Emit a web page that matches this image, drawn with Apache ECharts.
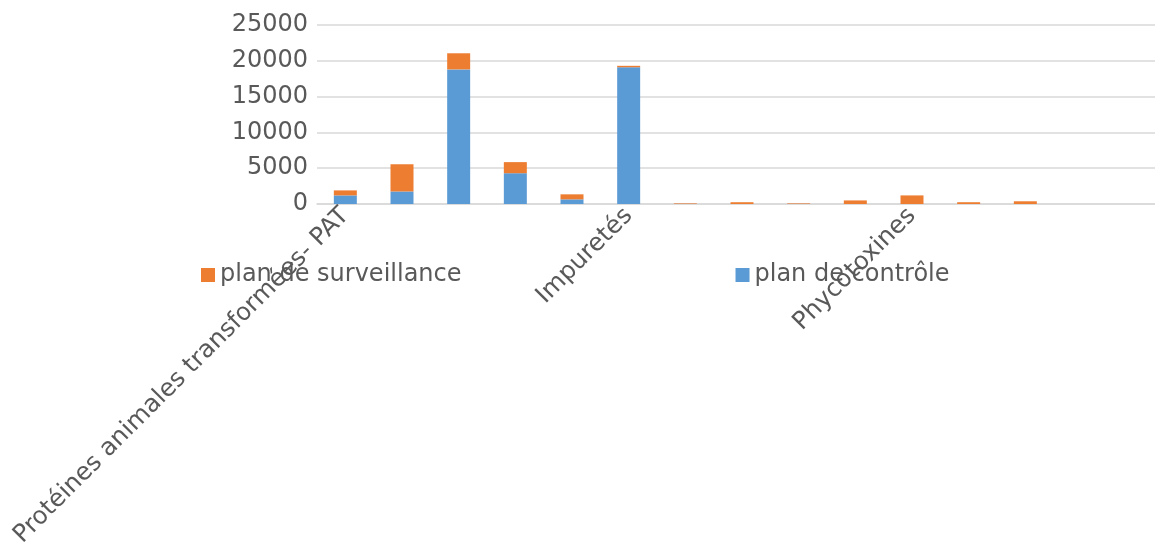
<!DOCTYPE html>
<html>
<head>
<meta charset="utf-8">
<script src="https://cdn.jsdelivr.net/npm/echarts@6/dist/echarts.min.js"></script>
<style>html,body{margin:0;padding:0;background:#fff}#c{width:1155px;height:551px}</style>
</head>
<body>
<div id="c"></div>
<script>
const categories = [
  "Protéines animales transformées- PAT",
  "Additifs",
  "Substances indésirables",
  "Médicaments vétérinaires",
  "OGM",
  "Impuretés",
  "Salmonelles",
  "Dioxines et PCB",
  "Radionucléides",
  "Pesticides",
  "Phycotoxines",
  "Mycotoxines",
  "Métaux lourds",
  "Étiquetage",
  "Autres"
];
const planControle = [1200, 1750, 18800, 4300, 650, 19100, 20, 0, 20, 0, 0, 0, 0, 0, 0];
const planSurveillance = [700, 3800, 2250, 1550, 700, 200, 80, 250, 80, 500, 1200, 250, 380, 0, 0];
const yTicks = { min: 0, max: 25000, interval: 5000 };

const chart = echarts.init(document.getElementById('c'), null, { renderer: 'canvas' });
const font = '"DejaVu Sans", sans-serif';
const textColor = '#595959';
chart.setOption({
  animation: false,
  textStyle: { fontFamily: font },
  grid: { left: 317, top: 25, width: 850, height: 179, containLabel: false, outerBoundsMode: 'none' },
  legend: {
    data: ['plan de surveillance', 'plan de contrôle'],
    left: 196, top: 258,
    itemWidth: 14, itemHeight: 14, itemGap: 274,
    icon: 'rect',
    textStyle: { fontFamily: font, fontSize: 24, color: textColor }
  },
  xAxis: {
    type: 'category',
    data: categories,
    axisLine: { show: true, lineStyle: { color: '#d9d9d9', width: 1.5 } },
    axisTick: { show: false },
    axisLabel: { interval: 4, rotate: 45, fontSize: 24.5, color: textColor, fontFamily: font, margin: 8 }
  },
  yAxis: {
    type: 'value',
    min: yTicks.min, max: yTicks.max, interval: yTicks.interval,
    axisLine: { show: false },
    axisTick: { show: false },
    axisLabel: { fontSize: 24, color: textColor, fontFamily: font, margin: 9, formatter: v => String(v) },
    splitLine: { lineStyle: { color: '#d9d9d9', width: 1.5 } }
  },
  series: [
    { name: 'plan de contrôle', type: 'bar', stack: 's', data: planControle, barWidth: 23, itemStyle: { color: '#5B9BD5' } },
    { name: 'plan de surveillance', type: 'bar', stack: 's', data: planSurveillance, barWidth: 23, itemStyle: { color: '#ED7D31' } }
  ]
});
</script>
</body>
</html>
